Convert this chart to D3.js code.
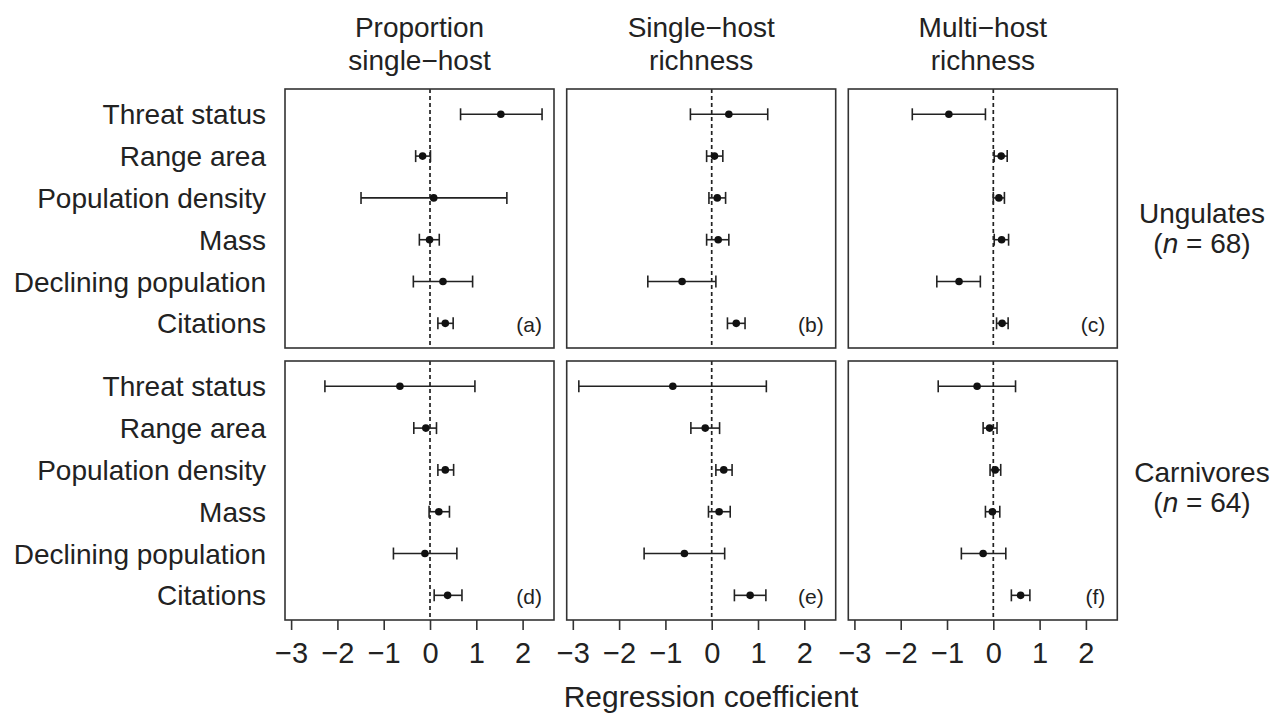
<!DOCTYPE html>
<html>
<head>
<meta charset="utf-8">
<script src="https://cdn.jsdelivr.net/npm/d3@7"></script>
<style>
  body { margin: 0; background: #fff; }
  text { font-family: "Liberation Sans", Arial, sans-serif; fill: #222; }
</style>
</head>
<body>
<script>
// predictors, top to bottom
var predictors = ["Threat status", "Range area", "Population density", "Mass", "Declining population", "Citations"];
var responses = [["Proportion", "single\u2212host"], ["Single\u2212host", "richness"], ["Multi\u2212host", "richness"]];
var groups = ["Ungulates", "Carnivores"];
var groupN = [68, 64];
var letters = ["a", "b", "c", "d", "e", "f"];
var xTicks = [-3, -2, -1, 0, 1, 2];

// [lower, estimate, upper] per predictor
var panelA = [[0.66, 1.53, 2.42], [-0.31, -0.16, 0.01], [-1.49, 0.08, 1.66], [-0.23, -0.01, 0.2], [-0.36, 0.28, 0.92], [0.17, 0.33, 0.5]];
var panelB = [[-0.46, 0.37, 1.21], [-0.11, 0.06, 0.24], [-0.06, 0.12, 0.3], [-0.11, 0.14, 0.37], [-1.38, -0.64, 0.09], [0.34, 0.53, 0.72]];
var panelC = [[-1.75, -0.96, -0.17], [0.02, 0.17, 0.3], [0.0, 0.12, 0.24], [0.02, 0.18, 0.33], [-1.22, -0.74, -0.28], [0.07, 0.19, 0.32]];
var panelD = [[-2.27, -0.65, 0.97], [-0.35, -0.09, 0.14], [0.17, 0.33, 0.51], [-0.02, 0.19, 0.42], [-0.79, -0.11, 0.58], [0.09, 0.38, 0.69]];
var panelE = [[-2.87, -0.84, 1.18], [-0.45, -0.14, 0.17], [0.09, 0.26, 0.44], [-0.07, 0.16, 0.4], [-1.46, -0.59, 0.28], [0.49, 0.83, 1.17]];
var panelF = [[-1.19, -0.35, 0.48], [-0.22, -0.08, 0.08], [-0.07, 0.04, 0.16], [-0.17, -0.02, 0.14], [-0.69, -0.22, 0.27], [0.39, 0.59, 0.79]];
var panels = [panelA, panelB, panelC, panelD, panelE, panelF];

var width = 1274, height = 715;
var colX = [285, 566.7, 848.3], rowY = [89, 361];
var pw = 269, ph = 259;

var x = d3.scaleLinear().domain([-3.132, 2.678]).range([0, pw]);
var y = d3.scaleLinear().domain([0.395, 6.59]).range([0, ph]);

var svg = d3.select("body").append("svg")
    .attr("width", width)
    .attr("height", height);

var minus = d => d < 0 ? "\u2212" + Math.abs(d) : "" + d;

panels.forEach(function(data, i) {
    var c = i % 3, r = Math.floor(i / 3);
    var g = svg.append("g")
        .attr("transform", "translate(" + colX[c] + "," + rowY[r] + ")");

    g.append("line")
        .attr("x1", x(0)).attr("x2", x(0))
        .attr("y1", 0).attr("y2", ph)
        .attr("stroke", "#222")
        .attr("stroke-width", 1.7)
        .attr("stroke-dasharray", "4,3");

    var bar = g.selectAll(".bar")
        .data(data)
        .enter().append("g")
        .attr("class", "bar")
        .attr("transform", (d, k) => "translate(0," + y(k + 1) + ")");

    bar.append("line")
        .attr("x1", d => x(d[0])).attr("x2", d => x(d[2]))
        .attr("stroke", "#222").attr("stroke-width", 1.6);
    bar.append("line")
        .attr("x1", d => x(d[0])).attr("x2", d => x(d[0]))
        .attr("y1", -6).attr("y2", 6)
        .attr("stroke", "#222").attr("stroke-width", 1.6);
    bar.append("line")
        .attr("x1", d => x(d[2])).attr("x2", d => x(d[2]))
        .attr("y1", -6).attr("y2", 6)
        .attr("stroke", "#222").attr("stroke-width", 1.6);
    bar.append("circle")
        .attr("cx", d => x(d[1]))
        .attr("r", 3.8)
        .attr("fill", "#111");

    g.append("rect")
        .attr("width", pw).attr("height", ph)
        .attr("fill", "none")
        .attr("stroke", "#333")
        .attr("stroke-width", 1.6);

    g.append("text")
        .attr("x", pw - 12).attr("y", ph - 16)
        .attr("text-anchor", "end")
        .style("font-size", "21px")
        .text("(" + letters[i] + ")");

    if (r == 1) {
        var ax = g.append("g")
            .attr("transform", "translate(0," + ph + ")")
            .call(d3.axisBottom(x).tickValues(xTicks).tickSize(10).tickPadding(12).tickFormat(minus));
        ax.select(".domain").remove();
        ax.selectAll("line").attr("stroke", "#333").attr("stroke-width", 1.6);
        ax.selectAll("text").style("font-size", "29px").attr("fill", "#222")
            .style("font-family", "'Liberation Sans', Arial, sans-serif");
    }
});

// row labels
rowY.forEach(function(top) {
    svg.append("g").selectAll("text")
        .data(predictors)
        .enter().append("text")
        .attr("x", 266)
        .attr("y", (d, k) => top + y(k + 1))
        .attr("dy", "0.36em")
        .attr("text-anchor", "end")
        .style("font-size", "28px")
        .text(d => d);
});

// column titles
responses.forEach(function(lines, c) {
    var t = svg.append("text")
        .attr("text-anchor", "middle")
        .style("font-size", "28px");
    lines.forEach(function(s, j) {
        t.append("tspan")
            .attr("x", colX[c] + pw / 2)
            .attr("y", 37 + j * 33)
            .text(s);
    });
});

// group labels on the right
var gy = [223, 482];
groups.forEach(function(name, k) {
    svg.append("text")
        .attr("x", 1202).attr("y", gy[k])
        .attr("text-anchor", "middle")
        .style("font-size", "28px")
        .text(name);
    var t = svg.append("text")
        .attr("x", 1202).attr("y", gy[k] + 30)
        .attr("text-anchor", "middle")
        .style("font-size", "28px");
    t.append("tspan").text("(");
    t.append("tspan").style("font-style", "italic").text("n");
    t.append("tspan").text(" = " + groupN[k] + ")");
});

svg.append("text")
    .attr("x", 711).attr("y", 707)
    .attr("text-anchor", "middle")
    .style("font-size", "30px")
    .text("Regression coefficient");
</script>
</body>
</html>
